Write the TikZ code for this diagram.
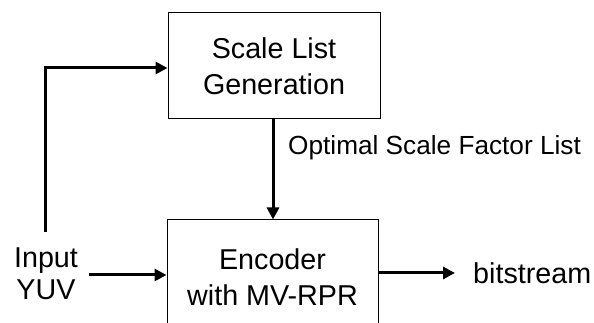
\documentclass[tikz,border=0pt]{standalone}
\usepackage{fontspec}
\setmainfont{Liberation Sans}
\usetikzlibrary{arrows.meta}
\begin{document}
\begin{tikzpicture}[x=1pt,y=1pt,
  blockbox/.style={draw, line width=1pt, align=center, font=\fontsize{28.7}{36}\selectfont, inner sep=0pt},
  txt/.style={align=center, font=\fontsize{28.7}{32}\selectfont, inner sep=0pt},
  flow/.style={line width=3pt, -{Triangle[length=12pt,width=12pt]}}]
\useasboundingbox (0,0) rectangle (594,323);
\clip (0,0) rectangle (594,323);
\node[blockbox, minimum width=212pt, minimum height=106pt] (top) at (274,257) {Scale List\\Generation};
\node[blockbox, minimum width=211pt, minimum height=115pt] (bot) at (272.5,45.5) {Encoder\\with MV-RPR};
\node[txt, anchor=center] (in) at (46,49) {Input\\YUV};
\node[txt, anchor=west] (out) at (473,50) {bitstream};
\node[anchor=west, inner sep=0pt, font=\fontsize{26.2}{30}\selectfont] (lab) at (288,175) {Optimal Scale Factor List};
\coordinate (upstart) at (45,91);
\coordinate (corner) at (45,255);
\coordinate (instart) at (89,48);
\draw[flow] (upstart) -- (corner) -- (corner -| top.west);
\draw[flow] (instart) -- (instart -| bot.west);
\draw[flow] (273,0 |- top.south) -- (273,0 |- bot.north);
\draw[flow] (bot.east |- 0,50) -- (455,50);
\end{tikzpicture}
\end{document}
